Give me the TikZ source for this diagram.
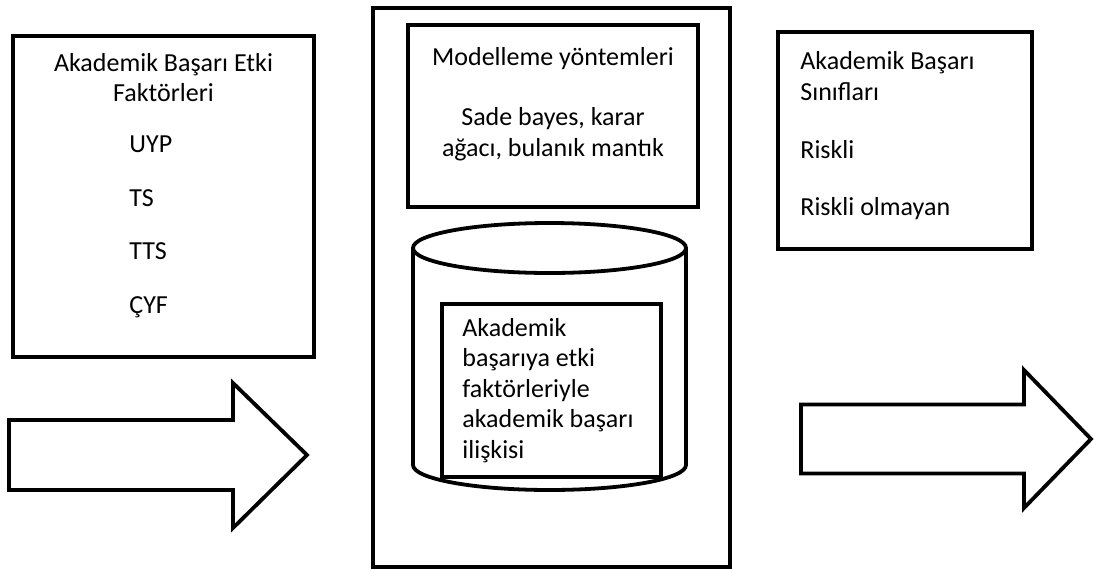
\documentclass[tikz,border=0pt]{standalone}
\usepackage{fontspec}
\setmainfont{Carlito}
\usetikzlibrary{positioning}
\tikzset{
  framebox/.style={
    draw=black,
    fill=white,
    line width=1.9pt,
    inner sep=0pt
  },
  boxtext/.style={
    font=\fontsize{13}{15.5}\selectfont,
    inner sep=0pt
  },
  blockarrow/.style={draw=black, fill=white, line width=1.9pt, line join=miter}
}
\begin{document}
\begin{tikzpicture}[x=0.5pt,y=-0.5pt]
  \useasboundingbox[fill=white] (0,0) rectangle (1094,569);
  % left: factors
  \node[framebox,minimum width=150.5pt,minimum height=160.5pt] (factors) at (163.5,196.5) {};
  \node[boxtext,align=center,anchor=base,font=\fontsize{13}{15}\selectfont] (factorstitle) at (163.5,101) {Akademik Başarı Etki\\Faktörleri};
  \node[boxtext,align=left,anchor=base west] (factorlist) at (129,313) {UYP\\[11.2pt]TS\\[11.2pt]TTS\\[11.2pt]ÇYF};
  % middle: model
  \node[framebox,minimum width=178.5pt,minimum height=279.5pt] (model) at (551.5,287.5) {};
  \node[framebox,minimum width=145pt,minimum height=91pt] (methods) at (553,116) {};
  \node[boxtext,anchor=base] (methodstitle) at (553,65) {Modelleme yöntemleri};
  \node[boxtext,align=center,anchor=base] (methodlist) at (553,156) {Sade bayes, karar\\ağacı, bulanık mantık};
  % database cylinder
  \draw[framebox] (413,248) -- (413,465)
    arc[start angle=180,end angle=360,x radius=68.25pt,y radius=12.5pt] -- (686,248);
  \draw[framebox] (549.5,248) ellipse[x radius=68.25pt,y radius=12.5pt];
  \node[framebox,minimum width=109.5pt,minimum height=86.5pt] (relation) at (551.5,390.5) {};
  \node[boxtext,align=left,anchor=base west,font=\fontsize{13}{15.25}\selectfont] (relationtext) at (462,458)
    {Akademik\\başarıya etki\\faktörleriyle\\akademik başarı\\ilişkisi};
  % right: classes
  \node[framebox,minimum width=127pt,minimum height=108.5pt] (classes) at (905,140.5) {};
  \node[boxtext,align=left,anchor=base west] (classlist) at (800,215)
    {Akademik Başarı\\Sınıfları\\[13.5pt]Riskli\\[13pt]Riskli olmayan};
  % block arrows
  \draw[blockarrow] (9,420) -- (233,420) -- (233,383) -- (307,455) -- (233,528) -- (233,490) -- (9,490) -- cycle;
  \draw[blockarrow] (801,404.5) -- (1024,404.5) -- (1024,370) -- (1091,439) -- (1024,508) -- (1024,473.5) -- (801,473.5) -- cycle;
\end{tikzpicture}
\end{document}
